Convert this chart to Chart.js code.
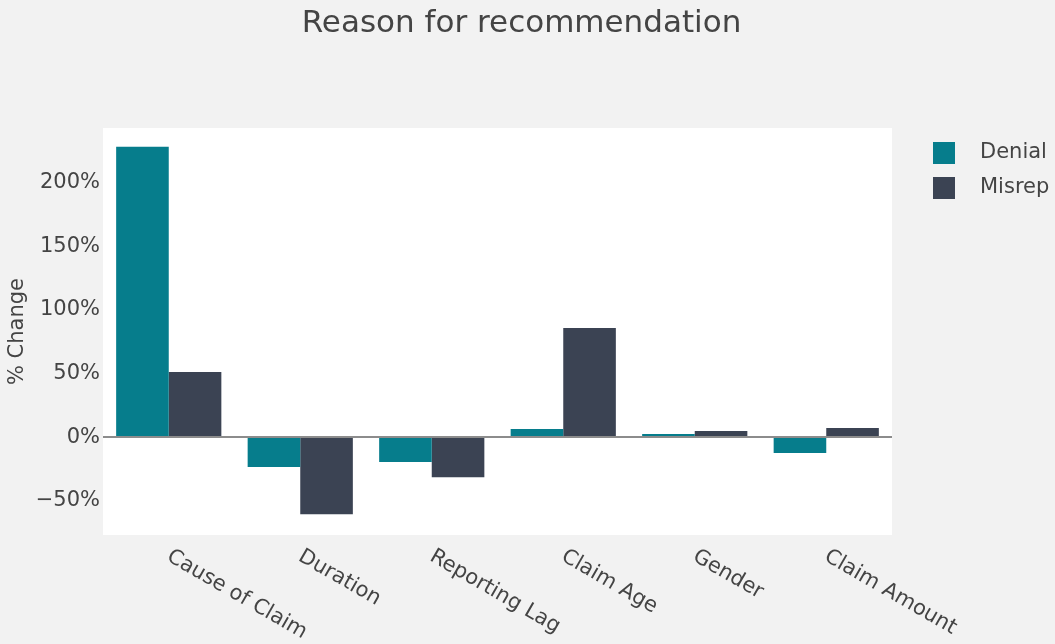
<!DOCTYPE html>
<html>
<head>
<meta charset="utf-8">
<title>Reason for recommendation</title>
<script src="https://cdn.jsdelivr.net/npm/chart.js@4.4.1/dist/chart.umd.min.js"></script>
<style>
  html, body { margin: 0; padding: 0; background: #f2f2f2; }
  #wrap { width: 1055px; height: 644px; position: relative; }
</style>
</head>
<body>
<div id="wrap"><canvas id="chart"></canvas></div>
<script>
// Data
const categories = ['Cause of Claim', 'Duration', 'Reporting Lag', 'Claim Age', 'Gender', 'Claim Amount'];
const seriesNames = ['Denial', 'Misrep'];
const denialValues = [228.3, -23.6, -19.7, 6.3, 2.4, -12.6];
const misrepValues = [51.2, -60.6, -31.5, 85.8, 4.7, 7.1];
const yTickValues = [-50, 0, 50, 100, 150, 200];
const chartTitle = 'Reason for recommendation';
const yAxisTitle = '% Change';

const FONT = "'DejaVu Sans', Verdana, sans-serif";
const TEXT = '#444';
const COLORS = ['#067d8c', '#3b4353'];

function pct(v) {
  return (v < 0 ? '\u2212' + Math.abs(v) : String(v)) + '%';
}

// Page background, white plot area, title, legend and slanted category labels
const decorations = {
  id: 'decorations',
  beforeDraw(chart) {
    const { ctx, chartArea: a } = chart;
    ctx.save();
    ctx.fillStyle = '#f2f2f2';
    ctx.fillRect(0, 0, chart.width, chart.height);
    ctx.fillStyle = '#ffffff';
    ctx.fillRect(a.left, a.top, a.right - a.left, a.bottom - a.top);
    ctx.restore();
  },
  afterDraw(chart) {
    const { ctx, chartArea: a } = chart;
    ctx.save();
    // title
    ctx.fillStyle = TEXT;
    ctx.font = '31px ' + FONT;
    ctx.textAlign = 'center';
    ctx.textBaseline = 'alphabetic';
    ctx.fillText(chartTitle, chart.width / 2 - 6, 32);

    // legend
    ctx.font = '21px ' + FONT;
    ctx.textAlign = 'left';
    ctx.textBaseline = 'middle';
    chart.data.datasets.forEach((ds, i) => {
      const x = a.right + 41;
      const y = a.top + 14 + i * 35;
      ctx.fillStyle = ds.backgroundColor;
      ctx.fillRect(x, y, 22, 22);
      ctx.fillStyle = TEXT;
      ctx.fillText(ds.label, x + 47, y + 11);
    });

    // category labels, slanted downward
    const xs = chart.scales.x;
    ctx.font = '21px ' + FONT;
    ctx.textAlign = 'left';
    ctx.textBaseline = 'top';
    chart.data.labels.forEach((lab, i) => {
      const px = xs.getPixelForTick(i);
      ctx.save();
      ctx.translate(px + 5, a.bottom + 11);
      ctx.rotate(Math.PI / 6);
      ctx.fillText(lab, 0, 0);
      ctx.restore();
    });
    ctx.restore();
  }
};

new Chart(document.getElementById('chart'), {
  type: 'bar',
  data: {
    labels: categories,
    datasets: [
      { label: seriesNames[0], data: denialValues, backgroundColor: COLORS[0] },
      { label: seriesNames[1], data: misrepValues, backgroundColor: COLORS[1] }
    ]
  },
  options: {
    responsive: true,
    maintainAspectRatio: false,
    animation: false,
    devicePixelRatio: 1,
    layout: { padding: { top: 128, right: 163, bottom: 0, left: 0 } },
    datasets: { bar: { categoryPercentage: 0.8, barPercentage: 1.0, borderWidth: 0 } },
    plugins: {
      legend: { display: false },
      title: { display: false },
      tooltip: { enabled: false }
    },
    scales: {
      x: {
        grid: { display: false },
        border: { display: false },
        ticks: { display: false },
        afterFit(scale) { scale.height = 109; }
      },
      y: {
        min: -77,
        max: 243,
        afterBuildTicks(scale) { scale.ticks = yTickValues.map(v => ({ value: v })); },
        afterFit(scale) { scale.width = 103; },
        border: { display: false },
        grid: {
          drawTicks: false,
          color: c => (c.tick && c.tick.value === 0 ? '#8c8c8c' : 'rgba(0,0,0,0)'),
          lineWidth: c => (c.tick && c.tick.value === 0 ? 2 : 0)
        },
        ticks: {
          padding: 3,
          color: TEXT,
          font: { family: FONT, size: 21 },
          callback: v => pct(v)
        },
        title: {
          display: true,
          text: yAxisTitle,
          color: TEXT,
          font: { family: FONT, size: 21 },
          padding: { top: 5, bottom: 0 }
        }
      }
    }
  },
  plugins: [decorations]
});
</script>
</body>
</html>
